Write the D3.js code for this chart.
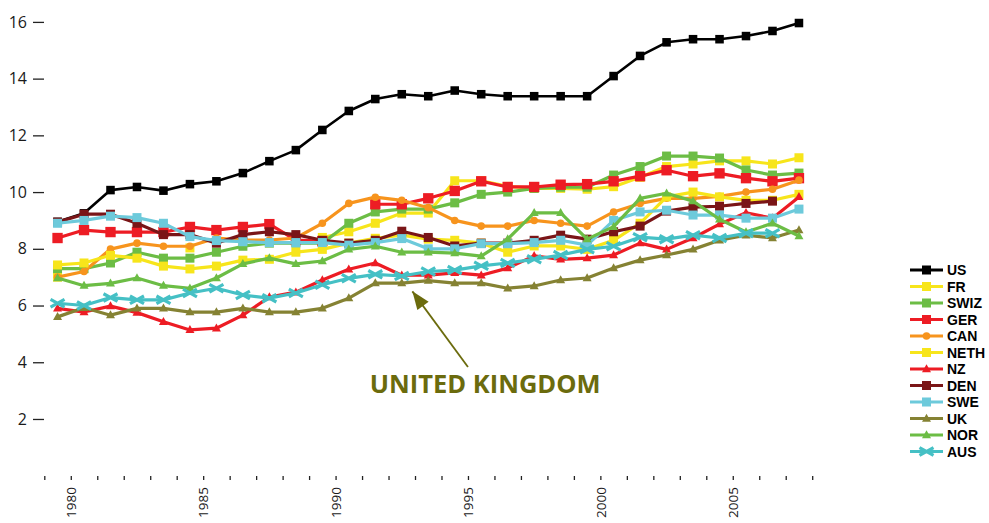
<!DOCTYPE html>
<html>
<head>
<meta charset="utf-8">
<script src="https://cdn.jsdelivr.net/npm/d3@7/dist/d3.min.js"></script>
<style>
  html, body { margin: 0; padding: 0; background: #fff; }
  svg { display: block; }
</style>
</head>
<body>
<svg id="chart" width="989" height="523"></svg>
<script>
// ---- DATA ----
const years = d3.range(1980, 2009);
const yTickValues = [2, 4, 6, 8, 10, 12, 14, 16];
const xLabelYears = [1980, 1985, 1990, 1995, 2000, 2005];

const US   = [8.95, 9.25, 10.07, 10.18, 10.05, 10.28, 10.38, 10.67, 11.09, 11.48, 12.19, 12.86, 13.28, 13.45, 13.38, 13.58, 13.45, 13.38, 13.38, 13.38, 13.38, 14.09, 14.8, 15.28, 15.39, 15.39, 15.5, 15.68, 15.96];
const FR   = [7.0, null, null, null, null, 8.03, null, null, null, null, 8.4, 8.6, 8.9, 9.26, 9.26, 10.4, 10.4, 10.2, 10.13, 10.13, 10.1, 10.19, 10.52, 10.9, 10.99, 11.1, 11.1, 10.99, 11.21];
const SWIZ = [7.3, 7.3, 7.5, 7.88, 7.67, 7.67, 7.88, 8.09, 8.2, 8.2, 8.2, 8.9, 9.3, 9.4, 9.4, 9.62, 9.92, 10.0, 10.13, 10.17, 10.17, 10.6, 10.9, 11.27, 11.27, 11.2, 10.78, 10.6, 10.67];
const GER  = [8.38, 8.66, 8.59, 8.59, 8.59, 8.77, 8.66, 8.77, 8.87, 8.31, 8.27, null, 9.57, 9.57, 9.78, 10.04, 10.38, 10.18, 10.18, 10.26, 10.28, 10.38, 10.56, 10.77, 10.56, 10.66, 10.49, 10.38, 10.49];
const CAN  = [7.0, 7.2, 7.99, 8.2, 8.09, 8.09, 8.38, 8.31, 8.31, 8.38, 8.9, 9.6, 9.82, 9.71, 9.45, 9.0, 8.8, 8.8, 9.0, 8.9, 8.8, 9.3, 9.6, 9.78, 9.78, 9.85, 10.0, 10.1, 10.42];
const NETH = [7.43, 7.5, 7.77, 7.67, 7.39, 7.29, 7.39, 7.6, 7.63, 7.88, 7.98, 8.2, 8.37, 8.48, 8.34, 8.3, 8.2, 7.88, 8.1, 8.1, 7.98, 8.3, 8.9, 9.83, 10.0, 9.83, 9.71, 9.71, 9.92];
const NZ   = [5.9, 5.77, 5.98, 5.75, 5.43, 5.14, 5.2, 5.66, 6.3, 6.47, 6.9, 7.28, 7.5, 7.07, 7.07, 7.15, 7.07, 7.32, 7.75, 7.63, 7.67, 7.78, 8.2, 7.98, 8.38, 8.87, 9.27, 9.08, 9.83];
const DEN  = [8.94, 9.22, 9.22, 8.9, 8.5, 8.5, 8.2, 8.5, 8.6, 8.5, 8.3, 8.2, 8.3, 8.62, 8.4, 8.1, 8.2, 8.2, 8.3, 8.48, 8.34, 8.6, 8.8, 9.33, 9.47, 9.5, 9.6, 9.68, null];
const SWE  = [8.9, 9.0, 9.15, 9.1, 8.9, 8.43, 8.29, 8.25, 8.22, 8.22, 8.22, 8.13, 8.22, 8.36, 8.0, 8.0, 8.18, 8.18, 8.22, 8.3, 8.13, 9.0, 9.3, 9.36, 9.19, 9.19, 9.08, 9.08, 9.4];
const UK   = [5.6, 5.92, 5.66, 5.9, 5.9, 5.77, 5.77, 5.9, 5.77, 5.77, 5.9, 6.26, 6.79, 6.79, 6.88, 6.79, 6.79, 6.61, 6.69, 6.9, 6.97, 7.32, 7.6, 7.78, 7.98, 8.3, 8.48, 8.38, 8.66];
const NOR  = [6.97, 6.7, 6.78, 6.97, 6.7, 6.61, 6.97, 7.47, 7.67, 7.47, 7.57, 7.98, 8.09, 7.88, 7.88, 7.85, 7.74, 8.34, 9.27, 9.27, 8.34, 8.78, 9.78, 9.96, 9.68, 9.04, 8.59, 8.9, 8.45];
const AUS  = [6.08, 6.0, 6.28, 6.2, 6.2, 6.44, 6.61, 6.37, 6.26, 6.44, 6.73, 6.96, 7.1, 7.04, 7.2, 7.25, 7.4, 7.5, 7.63, 7.78, 7.98, 8.09, 8.41, 8.34, 8.48, 8.38, 8.55, 8.55, null];

const seriesNames  = ["US", "FR", "SWIZ", "GER", "CAN", "NETH", "NZ", "DEN", "SWE", "UK", "NOR", "AUS"];
const seriesValues = [US, FR, SWIZ, GER, CAN, NETH, NZ, DEN, SWE, UK, NOR, AUS];
const seriesColors = ["#000000", "#f7e51b", "#6cbd45", "#ed1c24", "#f7941d", "#f7e51b", "#ed1c24", "#7a1517", "#6dcadb", "#858233", "#6cbd45", "#45c0c5"];
const seriesMarkers = ["square", "square", "square", "square", "circle", "square", "triangle", "square", "square", "triangle", "triangle", "cross"];
const annotationText = "UNITED KINGDOM";

// ---- CHART ----
const svg = d3.select("#chart");
const font = "'Open Sans', 'Noto Sans', sans-serif";
const legendFont = "'Liberation Sans', Arial, sans-serif";

const x = d3.scaleLinear().domain([1979, 2008]).range([44.3, 812.2]);
const y = d3.scaleLinear().domain([0, 16]).range([475.7, 21.9]);
const px = yr => x(yr - 0.5);

// Y axis: ticks as short dashes, no domain line
const yAxis = d3.axisLeft(y).tickValues(yTickValues).tickSize(11).tickPadding(6).tickFormat(d3.format("d"));
const yg = svg.append("g").attr("transform", "translate(44,0)").call(yAxis);
yg.select(".domain").remove();
yg.selectAll(".tick line").attr("stroke", "#222").attr("stroke-width", 1.3);
yg.selectAll(".tick text").attr("font-family", font).attr("font-size", 16).attr("fill", "#1a1a1a");

// X axis: little tick marks every year, labels every 5 years, rotated
const xAxis = d3.axisBottom(x).tickValues(d3.range(1979, 2009)).tickSize(4)
  .tickFormat(d => xLabelYears.includes(d) ? String(d) : "");
const xg = svg.append("g").attr("transform", "translate(0,476)").call(xAxis);
xg.select(".domain").remove();
xg.selectAll(".tick line").attr("stroke", "#222").attr("stroke-width", 1.3);
xg.selectAll(".tick text")
  .attr("font-family", font).attr("font-size", 13.5).attr("fill", "#1a1a1a")
  .attr("transform", "rotate(-90)")
  .attr("text-anchor", "end")
  .attr("x", -11).attr("y", 0).attr("dy", "0.35em");

// marker drawing
function drawMarker(g, type, color, cx, cy, scale) {
  const s = scale || 1;
  if (type === "square") {
    g.append("rect").attr("x", cx - 4.5 * s).attr("y", cy - 4.5 * s)
      .attr("width", 9 * s).attr("height", 9 * s).attr("fill", color);
  } else if (type === "circle") {
    g.append("circle").attr("cx", cx).attr("cy", cy).attr("r", 3.8 * s).attr("fill", color);
  } else if (type === "triangle") {
    const h = 8 * s, w = 9 * s;
    g.append("path").attr("d", `M${cx},${cy - h * 0.6}L${cx + w / 2},${cy + h * 0.4}L${cx - w / 2},${cy + h * 0.4}Z`).attr("fill", color);
  } else if (type === "cross") {
    const r = 7 * s;
    g.append("path").attr("d", `M${cx - r},${cy - r * 0.55}L${cx + r},${cy + r * 0.55}M${cx - r},${cy + r * 0.55}L${cx + r},${cy - r * 0.55}`)
      .attr("stroke", color).attr("stroke-width", 3.2).attr("fill", "none");
  }
}

const line = d3.line()
  .defined(d => d.v !== null)
  .x(d => px(d.year))
  .y(d => y(d.v));

seriesNames.forEach((name, si) => {
  const data = years.map((yr, i) => ({ year: yr, v: seriesValues[si][i] }));
  const color = seriesColors[si];
  const g = svg.append("g").attr("class", "series " + name);
  g.append("path").datum(data).attr("d", line)
    .attr("fill", "none").attr("stroke", color)
    .attr("stroke-width", name === "US" ? 2.6 : 3.2)
    .attr("stroke-linejoin", "round");
  data.filter(d => d.v !== null).forEach(d => {
    const sc = name === "US" ? 0.95 : (name === "GER" ? 1.15 : 1);
    drawMarker(g, seriesMarkers[si], color, px(d.year), y(d.v), sc);
  });
});

// Annotation
const annColor = "#6b6b0d";
const ax1 = x(1995.0), ay1 = y(3.83), ax2 = x(1992.9), ay2 = y(6.5);
svg.append("line")
  .attr("x1", ax1).attr("y1", ay1).attr("x2", ax2).attr("y2", ay2)
  .attr("stroke", annColor).attr("stroke-width", 1.8);
svg.append("path")
  .attr("d", (() => {
    const ang = Math.atan2(ay2 - ay1, ax2 - ax1);
    const L = 18, W = 7;
    const bx = ax2 - L * Math.cos(ang), by = ay2 - L * Math.sin(ang);
    const nx = -Math.sin(ang), ny = Math.cos(ang);
    return `M${ax2},${ay2}L${bx + nx * W},${by + ny * W}L${bx - nx * W},${by - ny * W}Z`;
  })())
  .attr("fill", annColor);
svg.append("text")
  .attr("x", x(1995.65)).attr("y", y(2.9))
  .attr("text-anchor", "middle")
  .attr("font-family", font).attr("font-weight", "bold").attr("font-size", 25.5)
  .attr("fill", annColor)
  .text(annotationText);

// Legend
const legend = svg.append("g").attr("transform", "translate(910,270)");
seriesNames.forEach((name, i) => {
  const gy = i * 16.5;
  const g = legend.append("g");
  g.append("line").attr("x1", 0).attr("x2", 33).attr("y1", gy).attr("y2", gy)
    .attr("stroke", seriesColors[i]).attr("stroke-width", 3);
  drawMarker(g, seriesMarkers[i], seriesColors[i], 16.5, gy, 1);
  g.append("text").attr("x", 37).attr("y", gy).attr("dy", "0.36em")
    .attr("font-family", legendFont).attr("font-weight", "bold").attr("font-size", 14)
    .attr("fill", "#000").text(name);
});
</script>
</body>
</html>
